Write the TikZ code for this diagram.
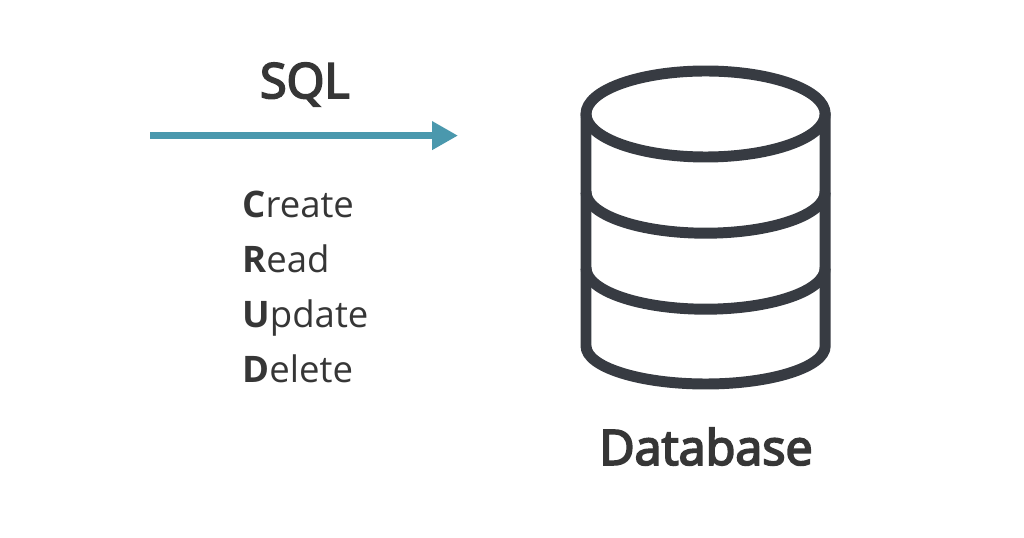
\documentclass[tikz,border=0pt]{standalone}
\usepackage{fontspec}
\setmainfont{Open Sans}
\newfontfamily\medfont[FakeBold=4]{Open Sans}
\usetikzlibrary{arrows.meta}
\definecolor{dbgray}{HTML}{373B42}
\definecolor{txtgray}{HTML}{363636}
\definecolor{sqlblue}{HTML}{4A98AD}
\tikzset{
    title/.style={text=txtgray,font=\medfont\fontsize{34.5}{35}\selectfont,inner sep=0pt,anchor=base},
    crud/.style={text=txtgray,font=\fontsize{26}{26}\selectfont,inner sep=0pt,anchor=base west},
    db/.style={draw=dbgray,line width=7.8pt,line cap=round,line join=round}
}

\begin{document}
\begin{tikzpicture}
        \useasboundingbox (0,0) rectangle (25.6,13.45);

        \node[title] (sql) at (7.62,11.0) {SQL};
        \coordinate (start) at (3.75,10.06);
        \coordinate (end) at (11.45,10.06);
        \draw[-{Triangle[length=0.65cm,width=0.68cm]},line width=5.5pt,sqlblue] (start) -- (end);

        \node[crud] (create) at (6.05,8.0) {\textbf{C}reate};
        \node[crud] (read) at (6.05,6.63) {\textbf{R}ead};
        \node[crud] (update) at (6.05,5.27) {\textbf{U}pdate};
        \node[crud] (delete) at (6.05,3.88) {\textbf{D}elete};

        % cylinder
        \draw[db] (17.64,10.6) ellipse [x radius=2.99,y radius=1.075];
        \draw[db] (14.65,10.6) -- (14.65,4.8) arc[start angle=180,end angle=360,x radius=2.99,y radius=0.95] -- (20.63,10.6);
        \foreach \y in {8.65,6.75}
            \draw[db,line cap=butt] (14.65,\y) arc[start angle=180,end angle=360,x radius=2.99,y radius=1.03];

        \node[title] (database) at (17.65,1.83) {Database};
    \end{tikzpicture}
\end{document}
